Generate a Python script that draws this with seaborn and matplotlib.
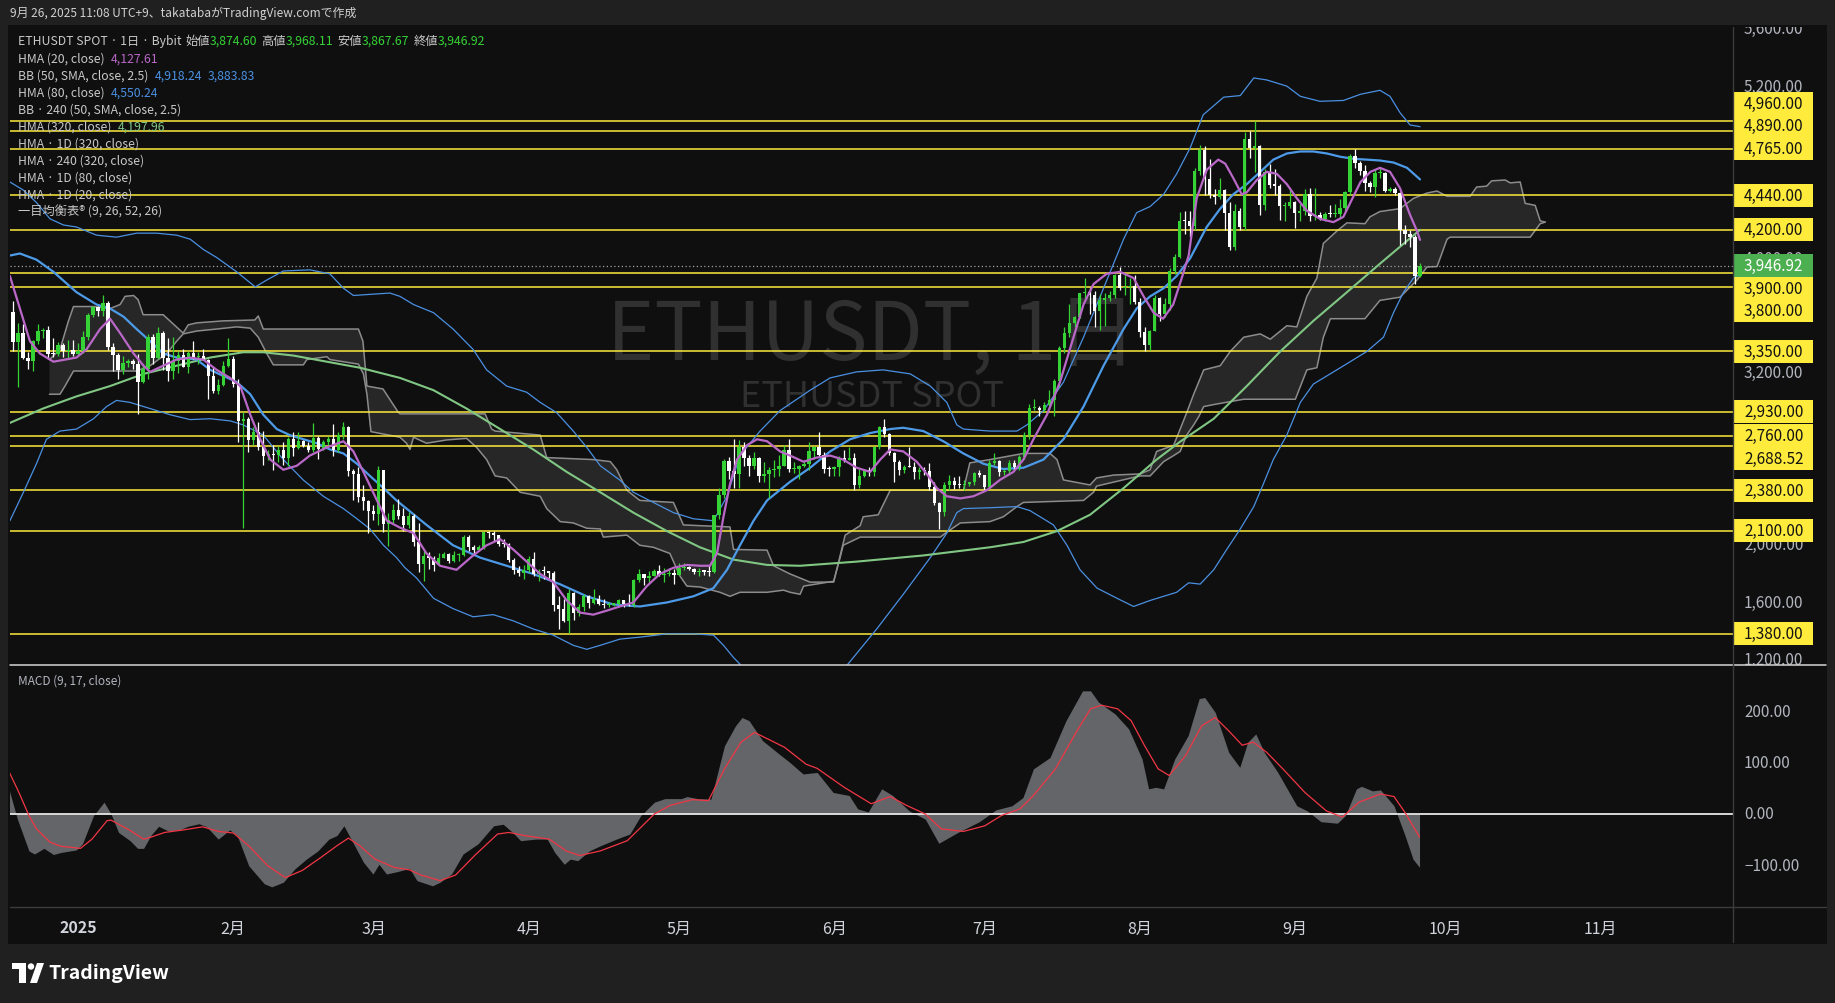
import numpy as np
import pandas as pd
import matplotlib
matplotlib.use('Agg')
import matplotlib.pyplot as plt
from matplotlib.patches import Rectangle, Circle, Polygon
import seaborn as sns

# ---------------- data ----------------
first_day = '2024-12-19'

opens = [3628, 3418, 3475, 3304, 3281, 3422, 3493, 3497, 3334, 3330, 3398, 3352, 3358,  # Dec
         3332, 3353, 3451, 3605, 3657, 3634, 3685, 3378, 3328, 3218, 3266, 3281, 3265, 3136, 3226, 3450,
         3306, 3475, 3306, 3216, 3282, 3326, 3242, 3339, 3308, 3318, 3292, 3179, 3076, 3113, 3248,  # Jan
         3300, 3119, 2867, 2879, 2731, 2788, 2686, 2621, 2632, 2627, 2660, 2603, 2738, 2678, 2725, 2691,
         2662, 2744, 2672, 2717, 2740, 2663, 2764, 2823, 2513, 2494, 2336, 2307,  # Feb
         2237, 2217, 2519, 2148, 2171, 2241, 2200, 2140, 2202, 2020, 1865, 1923, 1908, 1862, 1910, 1937,
         1887, 1930, 1931, 2056, 1983, 1964, 1983, 2087, 2083, 2068, 2009, 2003, 1897, 1827, 1806,  # Mar
         1822, 1904, 1795, 1817, 1816, 1807, 1579, 1554, 1471, 1667, 1522, 1566, 1643, 1596, 1622, 1587,
         1578, 1583, 1589, 1613, 1587, 1579, 1754, 1795, 1771, 1786, 1819, 1792, 1799, 1799,  # Apr
         1793, 1838, 1842, 1834, 1808, 1817, 1814, 1811, 2207, 2345, 2582, 2513, 2495, 2681, 2608, 2548,
         2604, 2479, 2493, 2523, 2527, 2551, 2663, 2528, 2531, 2548, 2564, 2658, 2683, 2630, 2531,  # May
         2527, 2540, 2606, 2594, 2607, 2419, 2480, 2525, 2509, 2686, 2819, 2772, 2644, 2580, 2524, 2546,
         2545, 2510, 2525, 2516, 2405, 2295, 2230, 2420, 2446, 2421, 2418, 2424, 2436, 2503,  # Jun
         2486, 2405, 2570, 2588, 2507, 2515, 2572, 2541, 2616, 2770, 2955, 2958, 2943, 2973, 3012, 3140,
         3371, 3476, 3547, 3592, 3757, 3763, 3741, 3630, 3706, 3724, 3741, 3880, 3793, 3797, 3809,  # Jul
         3697, 3485, 3394, 3495, 3723, 3610, 3684, 3913, 4012, 4263, 4260, 4222, 4606, 4753, 4550, 4440,
         4425, 4477, 4316, 4079, 4333, 4215, 4834, 4770, 4785, 4373, 4601, 4509, 4507, 4362, 4367,  # Aug
         4392, 4313, 4328, 4449, 4297, 4305, 4275, 4308, 4307, 4309, 4349, 4462, 4711, 4664, 4607, 4522,
         4500, 4592, 4596, 4470, 4480, 4453, 4200, 4166, 4151, 3874.60]  # Sep

highs = [3705, 3550, 3543, 3345, 3430, 3540, 3512, 3525, 3440, 3418, 3410, 3430, 3430,
         3408, 3490, 3620, 3670, 3670, 3745, 3700, 3410, 3340, 3320, 3300, 3300, 3330, 3260, 3470, 3470,
         3520, 3495, 3440, 3450, 3355, 3370, 3350, 3425, 3345, 3370, 3300, 3240, 3160, 3280, 3440,
         3320, 3160, 2925, 2890, 2825, 2855, 2795, 2660, 2700, 2690, 2720, 2750, 2790, 2790, 2735, 2720,
         2850, 2760, 2730, 2760, 2845, 2785, 2860, 2830, 2530, 2540, 2420, 2310,
         2275, 2550, 2525, 2220, 2285, 2320, 2260, 2230, 2215, 2150, 1960, 1950, 1920, 1940, 1950, 1940,
         1960, 1940, 2070, 2070, 2000, 2000, 2090, 2100, 2100, 2070, 2040, 2010, 1905, 1850, 1860,
         1920, 1950, 1830, 1850, 1820, 1815, 1640, 1620, 1690, 1670, 1590, 1660, 1650, 1690, 1650, 1620,
         1600, 1595, 1620, 1615, 1660, 1760, 1830, 1800, 1820, 1830, 1860, 1840, 1840, 1830,
         1870, 1870, 1850, 1840, 1835, 1825, 1860, 2210, 2400, 2600, 2610, 2740, 2730, 2720, 2630, 2650,
         2610, 2580, 2540, 2590, 2630, 2700, 2740, 2580, 2560, 2590, 2720, 2690, 2790, 2650, 2550,
         2550, 2620, 2660, 2680, 2640, 2530, 2530, 2540, 2690, 2830, 2880, 2780, 2650, 2590, 2560, 2680,
         2580, 2540, 2540, 2570, 2440, 2300, 2440, 2490, 2470, 2480, 2450, 2440, 2510, 2520,
         2490, 2590, 2640, 2590, 2530, 2590, 2590, 2630, 2790, 2980, 3020, 2970, 3000, 3080, 3160, 3390,
         3520, 3680, 3600, 3760, 3860, 3800, 3770, 3750, 3760, 3770, 3890, 3940, 3890, 3860, 3880,
         3720, 3520, 3500, 3740, 3730, 3720, 3930, 4030, 4320, 4330, 4330, 4630, 4790, 4780, 4690, 4480,
         4560, 4480, 4390, 4380, 4350, 4880, 4890, 4956, 4790, 4620, 4660, 4620, 4520, 4390, 4490,
         4400, 4380, 4480, 4490, 4490, 4320, 4320, 4370, 4380, 4410, 4470, 4730, 4760, 4680, 4650, 4540,
         4620, 4640, 4600, 4500, 4500, 4460, 4230, 4200, 4160, 3968.11]

lows = [3350, 3100, 3300, 3230, 3210, 3400, 3440, 3300, 3310, 3320, 3310, 3300, 3320,
        3320, 3340, 3430, 3590, 3600, 3600, 3360, 3210, 3155, 3190, 3240, 3230, 2910, 3130, 3160, 3260,
        3300, 3220, 3140, 3160, 3200, 3240, 3200, 3300, 3260, 3290, 3020, 3060, 3050, 3110, 3240,
        3100, 2720, 2120, 2650, 2700, 2660, 2560, 2590, 2520, 2580, 2560, 2550, 2620, 2670, 2680, 2650,
        2650, 2600, 2660, 2700, 2620, 2650, 2740, 2480, 2310, 2300, 2240, 2080,
        2170, 2140, 2090, 1990, 2150, 2180, 2100, 2120, 1990, 1810, 1750, 1830, 1820, 1860, 1905, 1870,
        1880, 1890, 1925, 1960, 1930, 1960, 1970, 2050, 2030, 1990, 1985, 1880, 1800, 1780, 1760,
        1810, 1780, 1750, 1760, 1770, 1540, 1410, 1460, 1385, 1475, 1505, 1540, 1560, 1590, 1580, 1560,
        1565, 1575, 1580, 1565, 1570, 1565, 1740, 1720, 1740, 1780, 1780, 1740, 1780, 1730,
        1790, 1825, 1825, 1800, 1780, 1790, 1780, 1805, 2180, 2330, 2460, 2400, 2400, 2550, 2480, 2530,
        2440, 2440, 2330, 2470, 2480, 2550, 2510, 2500, 2460, 2540, 2520, 2600, 2620, 2500, 2480,
        2480, 2480, 2580, 2590, 2380, 2400, 2470, 2480, 2480, 2670, 2750, 2630, 2440, 2490, 2500, 2540,
        2460, 2460, 2490, 2380, 2280, 2110, 2200, 2380, 2390, 2400, 2380, 2410, 2420, 2470,
        2380, 2390, 2560, 2480, 2490, 2500, 2520, 2520, 2600, 2740, 2940, 2900, 2930, 2960, 2900, 3100,
        3340, 3450, 3520, 3580, 3720, 3610, 3520, 3500, 3530, 3700, 3720, 3780, 3740, 3680, 3680,
        3450, 3355, 3360, 3490, 3560, 3590, 3640, 3890, 4000, 4170, 4150, 4200, 4580, 4440, 4420, 4380,
        4410, 4200, 4060, 4060, 4200, 4200, 4700, 4600, 4300, 4340, 4490, 4440, 4270, 4260, 4350,
        4210, 4260, 4300, 4260, 4270, 4270, 4260, 4290, 4290, 4280, 4330, 4440, 4630, 4580, 4470, 4460,
        4430, 4560, 4460, 4460, 4440, 4090, 4100, 4080, 3820, 3867.67]

closes = [3418, 3475, 3304, 3281, 3422, 3493, 3497, 3334, 3330, 3398, 3352, 3358, 3332,
          3353, 3451, 3605, 3657, 3634, 3685, 3378, 3328, 3218, 3266, 3281, 3265, 3136, 3226, 3450, 3306,
          3475, 3306, 3216, 3282, 3326, 3242, 3339, 3308, 3318, 3292, 3179, 3076, 3113, 3248, 3300,
          3119, 2867, 2879, 2731, 2788, 2686, 2621, 2632, 2627, 2660, 2603, 2738, 2678, 2725, 2691, 2662,
          2744, 2672, 2717, 2740, 2663, 2764, 2823, 2513, 2494, 2336, 2307, 2237,
          2217, 2519, 2148, 2171, 2241, 2200, 2140, 2202, 2020, 1865, 1923, 1908, 1862, 1910, 1937, 1887,
          1930, 1931, 2056, 1983, 1964, 1983, 2087, 2083, 2068, 2009, 2003, 1897, 1827, 1806, 1822,
          1904, 1795, 1817, 1816, 1807, 1579, 1554, 1471, 1667, 1522, 1566, 1643, 1596, 1622, 1587, 1578,
          1583, 1589, 1613, 1587, 1579, 1754, 1795, 1771, 1786, 1819, 1792, 1799, 1799, 1793,
          1838, 1842, 1834, 1808, 1817, 1814, 1811, 2207, 2345, 2582, 2513, 2495, 2681, 2608, 2548, 2604,
          2479, 2493, 2523, 2527, 2551, 2663, 2528, 2531, 2548, 2564, 2658, 2683, 2630, 2531, 2527,
          2540, 2606, 2594, 2607, 2419, 2480, 2525, 2509, 2686, 2819, 2772, 2644, 2580, 2524, 2546, 2545,
          2510, 2525, 2516, 2405, 2295, 2230, 2420, 2446, 2421, 2418, 2424, 2436, 2503, 2486,
          2405, 2570, 2588, 2507, 2515, 2572, 2541, 2616, 2770, 2955, 2958, 2943, 2973, 3012, 3140, 3371,
          3476, 3547, 3592, 3757, 3763, 3741, 3630, 3706, 3724, 3741, 3880, 3793, 3797, 3809, 3697,
          3485, 3394, 3495, 3723, 3610, 3684, 3913, 4012, 4263, 4260, 4222, 4606, 4753, 4550, 4440, 4425,
          4477, 4316, 4079, 4333, 4215, 4834, 4770, 4785, 4373, 4601, 4509, 4507, 4362, 4367, 4392,
          4313, 4328, 4449, 4297, 4305, 4275, 4308, 4307, 4309, 4349, 4462, 4711, 4664, 4607, 4522, 4500,
          4592, 4596, 4470, 4480, 4453, 4200, 4166, 4151, 3875, 3946.92]

# horizontal levels (yellow) and last price
levels = [4960, 4890, 4765, 4440, 4200, 3900, 3800, 3350, 2930, 2760, 2688.52, 2380, 2100, 1380]
last_price = 3946.92

# indicator lines, (days from 2025-01-01, value)
hma20 = [(-13.6, 3876), (-9.6, 3421), (-7.6, 3335), (-4.9, 3278), (-0.3, 3307), (1.7, 3364), (4.4, 3506),
         (6.4, 3578), (8.4, 3478), (11.1, 3335), (13.1, 3250), (14.4, 3207), (17.0, 3250), (19.7, 3293),
         (22.4, 3307), (25.0, 3293), (27.7, 3221), (30.4, 3164), (32.4, 3108), (34.4, 2908), (36.4, 2737),
         (38.4, 2595), (41.0, 2524), (43.7, 2552), (46.3, 2623), (49.7, 2680), (53.0, 2723), (55.0, 2652),
         (57.0, 2509), (59.7, 2310), (61.7, 2168), (64.3, 2120), (67.0, 2082), (69.6, 1940), (72.3, 1854),
         (75.6, 1826), (78.9, 1926), (81.6, 1997), (84.3, 2040), (86.9, 1968), (89.6, 1883), (92.3, 1797),
         (94.9, 1741), (97.6, 1612), (100.3, 1527), (102.9, 1513), (105.6, 1541), (108.2, 1570),
         (110.9, 1598), (113.6, 1712), (116.2, 1797), (118.9, 1840), (121.6, 1860), (124.2, 1854),
         (126.2, 1854), (127.6, 1940), (128.9, 2196), (130.2, 2424), (131.6, 2595), (133.6, 2695),
         (135.6, 2737), (137.6, 2723), (140.2, 2652), (142.2, 2623), (144.9, 2580), (147.5, 2609),
         (150.2, 2623), (152.8, 2595), (155.5, 2538), (158.2, 2509), (160.2, 2595), (162.2, 2666),
         (164.8, 2652), (167.5, 2580), (169.5, 2495), (171.5, 2396), (173.5, 2339), (176.2, 2324),
         (178.8, 2339), (181.5, 2381), (184.1, 2453), (186.8, 2509), (188.8, 2595), (190.8, 2737),
         (193.5, 2908), (196.1, 3136), (198.8, 3449), (200.8, 3677), (202.8, 3820), (205.4, 3891),
         (208.1, 3905), (210.8, 3862), (212.8, 3734), (214.8, 3620), (216.7, 3578), (218.7, 3677),
         (220.4, 3860), (221.8, 4019), (223.4, 4418), (225.4, 4617), (227.7, 4688), (229.1, 4660),
         (230.7, 4560), (232.4, 4446), (233.4, 4460), (235.4, 4546), (237.4, 4603), (239.4, 4589),
         (241.4, 4517), (243.4, 4418), (245.4, 4332), (248.0, 4275), (250.7, 4252), (252.7, 4289),
         (254.1, 4389), (256.1, 4531), (258.1, 4603), (260.0, 4631), (262.0, 4603), (264.0, 4489),
         (266.0, 4303), (267.4, 4190), (268.0, 4128)]

hma80 = [(-13.6, 4019), (-11.6, 4033), (-8.3, 3990), (-4.9, 3905), (-0.3, 3763), (3.7, 3677), (6.4, 3649),
         (9.1, 3592), (11.7, 3506), (14.4, 3421), (17.0, 3335), (19.7, 3307), (23.7, 3293), (26.4, 3221),
         (29.0, 3179), (31.7, 3136), (34.4, 3051), (37.0, 2908), (39.7, 2808), (42.3, 2766), (45.0, 2737),
         (47.7, 2709), (50.3, 2666), (53.0, 2638), (55.7, 2566), (58.3, 2481), (61.0, 2396), (63.6, 2310),
         (69.6, 2139), (74.9, 1997), (80.3, 1911), (85.6, 1854), (90.9, 1797), (96.2, 1726), (101.6, 1641),
         (106.9, 1584), (112.2, 1570), (117.6, 1598), (122.9, 1641), (126.9, 1698), (129.6, 1826),
         (132.2, 1997), (134.9, 2168), (137.6, 2310), (142.2, 2440), (146.2, 2538), (150.2, 2652),
         (154.2, 2737), (158.2, 2780), (162.2, 2808), (164.8, 2817), (168.8, 2794), (172.8, 2723),
         (176.8, 2638), (180.8, 2566), (184.8, 2529), (188.8, 2538), (192.8, 2595), (196.8, 2737),
         (200.8, 2965), (204.8, 3250), (208.8, 3506), (211.4, 3649), (214.1, 3734), (216.8, 3791),
         (219.4, 3876), (222.1, 4000), (225.4, 4218), (228.1, 4346), (230.7, 4446), (233.4, 4517),
         (236.1, 4603), (238.7, 4688), (241.4, 4731), (244.1, 4745), (246.7, 4745), (249.4, 4731),
         (252.1, 4708), (254.7, 4694), (257.4, 4688), (260.0, 4682), (262.7, 4668), (265.4, 4631),
         (268.0, 4550)]

hma320 = [(-13.6, 2851), (-7.0, 2951), (-0.3, 3036), (6.4, 3108), (13.1, 3193), (19.7, 3250), (26.4, 3307),
          (33.0, 3344), (37.0, 3344), (43.0, 3321), (49.7, 3278), (56.3, 3236), (64.3, 3165), (71.0, 3079),
          (77.6, 2951), (84.3, 2808), (90.9, 2666), (97.6, 2509), (104.3, 2367), (110.9, 2225),
          (117.6, 2096), (124.2, 1983), (130.9, 1897), (137.6, 1860), (144.2, 1854), (155.5, 1883),
          (168.8, 1926), (182.1, 1983), (188.8, 2020), (195.5, 2096), (202.1, 2210), (208.8, 2396),
          (215.4, 2595), (220.1, 2720), (226.8, 2880), (233.4, 3108), (240.1, 3350), (246.7, 3563),
          (253.4, 3763), (260.0, 3962), (268.0, 4198)]

bb_upper = [(-13.6, 4532), (-10.9, 4475), (-8.3, 4389), (-5.6, 4275), (-2.9, 4232), (-0.3, 4218), (3.7, 4161),
            (7.7, 4147), (11.7, 4175), (15.7, 4175), (19.7, 4161), (22.4, 4133), (25.0, 4062), (27.7, 4005),
            (31.7, 3905), (35.4, 3800), (37.7, 3848), (41.0, 3911), (46.3, 3919), (50.3, 3891), (53.0, 3791),
            (55.0, 3740), (58.3, 3748), (62.3, 3757), (64.3, 3734), (67.0, 3677), (71.0, 3620), (74.9, 3506),
            (78.9, 3364), (81.6, 3221), (85.6, 3108), (89.6, 3065), (92.3, 2994), (95.6, 2922), (98.9, 2794),
            (101.6, 2680), (104.3, 2552), (108.2, 2452), (110.9, 2367), (114.9, 2296), (118.9, 2225),
            (122.9, 2182), (126.9, 2168), (129.6, 2339), (132.2, 2623), (136.2, 2794), (140.2, 2937),
            (146.2, 3079), (150.2, 3165), (155.5, 3207), (160.8, 3221), (166.2, 3193), (170.2, 3108),
            (173.5, 2994), (175.5, 2837), (176.8, 2808), (182.1, 2794), (187.5, 2794), (189.5, 2837),
            (192.8, 2937), (196.8, 3136), (200.8, 3449), (204.8, 3791), (208.8, 4133), (211.4, 4318),
            (214.1, 4361), (216.8, 4446), (219.4, 4589), (222.1, 4770), (224.7, 5001), (228.8, 5124),
            (232.1, 5135), (234.8, 5258), (237.4, 5244), (241.4, 5201), (244.1, 5130), (248.0, 5095),
            (252.7, 5101), (256.1, 5144), (260.0, 5172), (262.0, 5130), (264.0, 5016), (266.0, 4930),
            (268.0, 4918)]

bb_lower = [(-13.6, 2168), (-10.9, 2367), (-8.3, 2566), (-6.3, 2737), (-3.6, 2794), (-0.3, 2808), (3.1, 2880),
            (5.7, 2965), (7.7, 3008), (10.4, 2994), (14.4, 2951), (18.4, 2908), (22.4, 2874), (26.4, 2880),
            (30.4, 2865), (33.0, 2837), (37.0, 2766), (41.0, 2595), (45.0, 2452), (49.0, 2339), (53.0, 2253),
            (55.7, 2182), (58.3, 2111), (61.0, 1997), (63.6, 1911), (65.3, 1840), (67.6, 1769), (71.0, 1627),
            (74.9, 1555), (78.9, 1498), (82.9, 1513), (86.9, 1470), (90.9, 1413), (94.9, 1370), (98.9, 1299),
            (101.6, 1271), (104.3, 1299), (108.2, 1342), (112.2, 1356), (117.6, 1379), (122.9, 1379),
            (126.9, 1370), (128.9, 1299), (130.9, 1214), (132.9, 1142), (136.0, 1050), (140.0, 980),
            (144.0, 950), (148.0, 1000), (151.0, 1080), (153.5, 1157), (159.5, 1413), (164.8, 1655),
            (170.2, 1911), (173.5, 2082), (175.5, 2225), (176.8, 2253), (182.1, 2259), (187.5, 2267),
            (190.1, 2239), (194.8, 2139), (197.5, 1997), (200.1, 1826), (203.5, 1698), (207.5, 1627),
            (210.8, 1570), (214.1, 1612), (219.4, 1669), (221.8, 1735), (224.1, 1726), (226.8, 1826),
            (229.4, 1968), (232.1, 2111), (234.8, 2267), (236.7, 2424), (238.7, 2595), (241.4, 2766),
            (244.1, 2994), (246.7, 3122), (249.4, 3179), (253.4, 3264), (257.4, 3350), (260.7, 3449),
            (262.7, 3620), (264.7, 3763), (266.7, 3862), (268.0, 3884)]

cloud_top = [(-5.7, 3293), (-3.6, 3364), (-1.9, 3563), (-0.9, 3663), (3.1, 3663), (6.4, 3649), (8.4, 3677),
             (9.4, 3734), (11.1, 3740), (12.0, 3711), (13.0, 3606), (17.0, 3606), (21.0, 3478), (22.0, 3535),
             (23.7, 3549), (29.0, 3563), (35.3, 3569), (36.0, 3597), (37.0, 3506), (56.0, 3506), (56.9, 3421),
             (57.7, 3108), (60.9, 3088), (63.9, 2928), (64.3, 2914), (81.3, 2914), (82.6, 2808), (83.3, 2794),
             (92.3, 2766), (93.6, 2609), (102.9, 2595), (106.3, 2581), (107.6, 2524), (109.6, 2381),
             (112.2, 2310), (118.9, 2296), (120.9, 2139), (130.2, 2125), (130.9, 1968), (137.6, 1963),
             (138.9, 1854), (142.2, 1797), (146.2, 1740), (150.9, 1740), (151.9, 1883), (153.2, 2068),
             (156.2, 2134), (156.8, 2196), (159.8, 2210), (162.2, 2381), (176.8, 2381), (178.1, 2572),
             (182.1, 2595), (188.8, 2638), (194.1, 2638), (195.5, 2595), (196.8, 2453), (202.1, 2418),
             (203.4, 2467), (206.8, 2487), (212.1, 2495), (214.1, 2524), (215.4, 2652), (218.8, 2695),
             (220.1, 2808), (221.4, 2922), (222.8, 3051), (224.8, 3221), (228.1, 3250), (230.1, 3350),
             (232.8, 3449), (236.1, 3472), (238.1, 3435), (240.1, 3492), (241.4, 3529), (243.4, 3521),
             (245.4, 3734), (247.4, 3862), (248.7, 4104), (251.4, 4190), (253.4, 4247), (257.0, 4241),
             (258.0, 4289), (260.0, 4326), (264.0, 4346), (266.7, 4418), (269.4, 4455), (271.4, 4469),
             (273.4, 4432), (278.0, 4432), (279.3, 4497), (281.3, 4503), (282.3, 4540), (285.0, 4546),
             (286.0, 4526), (288.0, 4532), (289.0, 4383), (291.0, 4369), (292.0, 4261), (293.0, 4252)]

cloud_bottom = [(-5.7, 3051), (-3.6, 3051), (-2.6, 3108), (-0.9, 3213), (11.7, 3213), (14.4, 3250), (17.7, 3335),
                (19.7, 3421), (21.0, 3472), (23.7, 3492), (27.7, 3506), (31.7, 3521), (34.4, 3512), (36.0, 3449),
                (37.7, 3335), (39.0, 3256), (45.0, 3256), (45.7, 3293), (49.7, 3313), (50.3, 3293), (56.0, 3261),
                (57.0, 3193), (57.7, 3051), (58.5, 2790), (64.3, 2751), (65.6, 2709), (66.3, 2666), (67.0, 2751),
                (69.6, 2709), (73.6, 2732), (77.6, 2743), (79.6, 2680), (81.6, 2595), (83.3, 2481), (85.6, 2467),
                (88.3, 2367), (92.3, 2339), (93.6, 2253), (96.3, 2162), (98.9, 2153), (101.6, 2116),
                (104.3, 2111), (104.9, 2054), (109.6, 2068), (112.2, 1997), (114.9, 1983), (118.2, 1940),
                (120.2, 1783), (121.6, 1712), (124.2, 1706), (128.2, 1669), (130.2, 1641), (132.2, 1669),
                (137.6, 1669), (140.9, 1684), (142.2, 1669), (144.2, 1655), (144.9, 1712), (150.9, 1746),
                (152.2, 1911), (152.8, 1997), (156.2, 2054), (172.2, 2054), (173.5, 2088), (176.2, 2153),
                (182.1, 2162), (184.8, 2196), (187.5, 2267), (188.8, 2296), (200.8, 2310), (202.8, 2367),
                (203.4, 2410), (212.1, 2481), (214.1, 2481), (216.8, 2581), (218.8, 2623), (220.1, 2652),
                (221.4, 2766), (222.8, 2837), (223.8, 2894), (224.8, 2965), (226.8, 2979), (232.8, 3016),
                (243.1, 3016), (245.4, 3221), (247.4, 3236), (248.7, 3449), (250.1, 3578), (257.0, 3578),
                (260.0, 3706), (264.0, 3728), (267.4, 3848), (269.4, 3939), (271.4, 3942), (273.4, 4133),
                (274.0, 4147), (290.0, 4147), (292.0, 4241), (293.0, 4252)]

macd = [(-13.7, 45), (-12.1, -10), (-9.8, -72), (-8.7, -78), (-6.8, -67), (-4.9, -79), (-3.4, -75), (-0.3, -70),
        (0.9, -58), (3.1, -3), (5.2, 23), (6.6, 0), (8.1, -36), (10.4, -52), (11.9, -67), (13.1, -67),
        (14.6, -41), (16.1, -24), (18.0, -33), (20.3, -31), (21.9, -24), (24.2, -19), (25.7, -25), (28.0, -49),
        (30.3, -31), (31.8, -42), (34.1, -101), (37.2, -136), (38.7, -142), (41.0, -133), (43.3, -107),
        (45.6, -88), (47.9, -72), (50.1, -49), (51.7, -42), (53.1, -23), (54.7, -52), (57.0, -94), (58.9, -117),
        (60.1, -98), (61.6, -117), (63.9, -112), (66.2, -106), (67.7, -130), (70.8, -140), (72.3, -133),
        (74.6, -117), (76.9, -78), (79.9, -58), (83.0, -23), (84.9, -20), (86.8, -36), (88.4, -52),
        (91.4, -49), (93.7, -49), (95.2, -75), (97.1, -98), (98.3, -88), (99.8, -91), (102.1, -72),
        (104.3, -62), (107.5, -49), (110.2, -39), (112.4, -3), (115.1, 23), (117.2, 30), (120.5, 30),
        (121.6, 34), (123.7, 30), (126.4, 29), (129.1, 133), (131.3, 172), (132.6, 188), (134.0, 182),
        (136.7, 143), (140.0, 117), (142.1, 101), (144.8, 78), (147.6, 81), (150.8, 42), (154.0, 36),
        (155.7, 10), (157.8, 4), (160.5, 49), (162.7, 36), (166.0, 6), (169.2, -10), (171.9, -57),
        (175.7, -36), (180.0, -15), (183.3, 8), (186.5, 16), (188.7, 32), (190.8, 88), (194.1, 110),
        (197.3, 182), (200.6, 240), (202.2, 240), (203.8, 218), (207.1, 195), (209.8, 166), (212.5, 107),
        (213.8, 49), (215.2, 52), (216.8, 49), (219.0, 107), (221.7, 153), (223.9, 225), (225.0, 227),
        (227.1, 198), (229.8, 120), (232.0, 91), (233.6, 140), (235.2, 156), (236.9, 120), (239.6, 81),
        (243.4, 16), (245.5, 6), (248.2, -15), (251.5, -18), (253.1, -3), (255.3, 49), (256.3, 54),
        (258.5, 45), (260.1, 47), (262.8, 16), (265.0, -42), (266.6, -88), (267.9, -104)]

signal = [(-13.7, 81), (-11.8, 42), (-9.8, -3), (-8.3, -29), (-5.6, -55), (-3.4, -63), (0.5, -67), (2.8, -49),
          (5.8, -13), (6.6, -12), (10.4, -32), (13.1, -49), (14.6, -45), (17.3, -36), (21.1, -31), (24.9, -25),
          (28.0, -34), (31.0, -37), (34.1, -62), (37.9, -101), (41.4, -124), (44.8, -110), (48.6, -84),
          (51.7, -62), (54.0, -47), (56.3, -62), (59.3, -88), (63.1, -104), (66.2, -109), (68.5, -119),
          (72.3, -130), (75.4, -119), (79.2, -81), (83.8, -39), (86.1, -36), (89.1, -42), (94.1, -49),
          (97.5, -72), (100.2, -81), (104.3, -72), (109.7, -52), (112.4, -26), (115.1, 0), (118.3, 17),
          (122.7, 28), (125.9, 26), (129.1, 88), (132.4, 140), (135.1, 159), (137.8, 146), (141.1, 130),
          (145.4, 97), (147.6, 89), (153.0, 52), (158.4, 20), (162.2, 34), (165.4, 17), (169.2, 0),
          (172.4, -29), (176.8, -34), (181.1, -23), (184.4, -3), (188.1, 10), (190.8, 36), (195.2, 88),
          (199.5, 162), (202.2, 205), (204.4, 212), (207.6, 205), (210.3, 182), (213.0, 133), (215.7, 88),
          (217.9, 75), (221.2, 114), (224.4, 172), (227.1, 188), (229.8, 162), (232.5, 134), (234.7, 140),
          (237.4, 120), (240.6, 88), (245.0, 42), (249.3, 6), (252.5, -6), (255.8, 23), (260.1, 39),
          (262.8, 34), (265.0, 3), (267.9, -45)]

# ---------------- style ----------------
BG = '#0f0f0f'
OUTER = '#202020'
GREEN = '#35d335'
WHITE = '#ffffff'
YELLOW = '#ffeb3b'
PURPLE = '#ba68c8'
BLUE = '#4a90e2'
LGREEN = '#81c784'
GRAYTXT = '#b2b5be'

sns.set_theme(style='dark', rc={'axes.facecolor': BG, 'figure.facecolor': OUTER})
plt.rcParams['font.family'] = ['Noto Sans CJK JP', 'DejaVu Sans']

W, H = 1835, 1004
fig = plt.figure(figsize=(W / 100, H / 100), dpi=100, facecolor=OUTER)


def box(x0, y0, x1, y1):
    return [x0 / W, 1 - y1 / H, (x1 - x0) / W, (y1 - y0) / H]


def clean(a):
    a.set_xticks([])
    a.set_yticks([])
    for s in a.spines.values():
        s.set_visible(False)


bg_ax = fig.add_axes(box(8, 26, 1827, 945))
bg_ax.set_facecolor(BG)
clean(bg_ax)

ax = fig.add_axes(box(10, 28, 1733, 666))
axm = fig.add_axes(box(10, 666, 1733, 908))
axs = fig.add_axes(box(1733, 28, 1826, 666), sharey=ax)
axms = fig.add_axes(box(1733, 666, 1826, 908), sharey=axm)
for a in (ax, axm, axs, axms):
    a.set_facecolor(BG)
    clean(a)

base = pd.Timestamp('2025-01-01')
xlim = (-13.58, 330.5)
ax.set_xlim(*xlim)
axm.set_xlim(*xlim)
ax.set_ylim(1161.6, 5613.6)
axm.set_ylim(-181.3, 290.4)
axs.set_xlim(0, 1)
axms.set_xlim(0, 1)

# watermark
ax.text(0.5, 0.4796, 'ETHUSDT, 1日', transform=ax.transAxes, ha='center', va='baseline',
        fontsize=58, color='#303030', zorder=0)
ax.text(0.5, 0.4060, 'ETHUSDT SPOT', transform=ax.transAxes, ha='center', va='baseline',
        fontsize=26, color='#303030', zorder=0)

# ichimoku cloud
tx, ty = zip(*cloud_top)
bx, by = zip(*cloud_bottom)
ax.fill(list(tx) + list(bx)[::-1], list(ty) + list(by)[::-1], color='#272727', lw=0, zorder=1)
sns.lineplot(x=tx, y=ty, ax=ax, color='#8c8c8c', linewidth=1.1, sort=False, estimator=None, zorder=1.5)
sns.lineplot(x=bx, y=by, ax=ax, color='#8c8c8c', linewidth=1.1, sort=False, estimator=None, zorder=1.5)

# levels
for lv in levels:
    ax.axhline(lv, color=YELLOW, lw=1.1, zorder=2)
ax.axhline(last_price, color='#a0a0a0', lw=0.9, ls=(0, (1, 2)), zorder=2)

# indicator lines
for series, col, lw, z in [(bb_upper, BLUE, 0.9, 3), (bb_lower, BLUE, 0.9, 3), (hma320, LGREEN, 1.5, 3),
                           (hma80, '#4d9be8', 1.6, 3.2)]:
    d, v = zip(*series)
    sns.lineplot(x=d, y=v, ax=ax, color=col, linewidth=lw, sort=False, estimator=None, zorder=z)

# candles
dates = pd.date_range(first_day, periods=len(closes))
cx = (dates - base).days.values
o = np.array(opens, dtype=float)
c = np.array(closes, dtype=float)
hi = np.array(highs, dtype=float)
lo = np.array(lows, dtype=float)
cols = np.where(c >= o, GREEN, WHITE)
ax.vlines(cx, lo, hi, colors=cols, lw=0.9, zorder=4)
ax.bar(cx, np.maximum(np.abs(c - o), 8), bottom=np.minimum(o, c), width=0.66, color=cols, lw=0, zorder=5)

d, v = zip(*hma20)
sns.lineplot(x=d, y=v, ax=ax, color=PURPLE, linewidth=1.6, sort=False, estimator=None, zorder=6)

# MACD pane
md, mv = zip(*macd)
axm.fill_between(md, 0, mv, color='#636569', lw=0, zorder=1)
sd, sv = zip(*signal)
sns.lineplot(x=sd, y=sv, ax=axm, color='#f23645', linewidth=0.9, sort=False, estimator=None, zorder=3)
axm.axhline(0, color='#e6e6e6', lw=1.3, zorder=2)

# time axis labels
months = pd.date_range('2025-01-01', '2025-11-01', freq='MS')
axm.set_xticks((months - base).days.values)
axm.set_xticklabels(['2025'] + [f'{m}月' for m in months.month[1:]])
axm.tick_params(axis='x', length=0, pad=9, colors='#d1d4dc', labelsize=11.5)
axm.get_xticklabels()[0].set_fontweight('bold')

# right price scale
for p in [5600, 5200, 4000, 3200, 2000, 1600, 1200]:
    axs.text(0.118, p, f'{p:,.2f}', va='center', ha='left', color=GRAYTXT, fontsize=11, clip_on=True, zorder=1)

upp = (5613.6 - 1161.6) / 638.0  # price units per pixel
nudge = {4960: -17.5, 4890: -5, 3900: 16, 3800: 24, 2688.52: 12.5}
box_h = 23 * upp
for lv in levels:
    yc = lv - nudge.get(lv, 0) * upp
    axs.add_patch(Rectangle((0.008, yc - box_h / 2), 0.85, box_h, color=YELLOW, lw=0, zorder=2))
    axs.text(0.118, yc, f'{lv:,.2f}', va='center', ha='left', color='#131313', fontsize=11, zorder=3)
axs.add_patch(Rectangle((0.008, last_price - box_h / 2), 0.85, box_h, color='#4caf50', lw=0, zorder=2))
axs.text(0.118, last_price, f'{last_price:,.2f}', va='center', ha='left', color='white', fontsize=11, zorder=3)

for p, lab in [(200, '200.00'), (100, '100.00'), (0, '0.00'), (-100, '−100.00')]:
    axms.text(0.118, p, lab, va='center', ha='left', color=GRAYTXT, fontsize=11)

# overlay in pixel coordinates
ov = fig.add_axes([0, 0, 1, 1])
ov.set_xlim(0, W)
ov.set_ylim(H, 0)
ov.axis('off')
ov.patch.set_alpha(0)

ov.plot([10, 1826], [666, 666], color='#d6d6d6', lw=1.1)
ov.plot([10, 1826], [908, 908], color='#3c3c3c', lw=1)
ov.plot([1733, 1733], [28, 943], color='#3c3c3c', lw=1)

renderer = fig.canvas.get_renderer()


def row(x, y, parts, size):
    for s, col, gap in parts:
        t = ov.text(x, y, s, color=col, fontsize=size, ha='left', va='center')
        x += t.get_window_extent(renderer).width + gap


ov.text(10, 13, '9月 26, 2025 11:08 UTC+9、takatabaがTradingView.comで作成', color='#d0d0d0',
        fontsize=8.6, ha='left', va='center')

LG = '#c8c8c8'
FS = 8.8
row(18, 41.5, [('ETHUSDT SPOT · 1日 · Bybit', LG, 4), ('始値', LG, 0), ('3,874.60', GREEN, 4),
               ('高値', LG, 0), ('3,968.11', GREEN, 4), ('安値', LG, 0), ('3,867.67', GREEN, 4),
               ('終値', LG, 0), ('3,946.92', GREEN, 0)], FS)
row(18, 59, [('HMA (20, close)', LG, 6), ('4,127.61', PURPLE, 0)], FS)
row(18, 76, [('BB (50, SMA, close, 2.5)', LG, 6), ('4,918.24', BLUE, 6), ('3,883.83', BLUE, 0)], FS)
row(18, 93, [('HMA (80, close)', LG, 6), ('4,550.24', BLUE, 0)], FS)
row(18, 110, [('BB · 240 (50, SMA, close, 2.5)', LG, 0)], FS)
row(18, 127, [('HMA (320, close)', LG, 6), ('4,197.96', LGREEN, 0)], FS)
for i, s in enumerate(['HMA · 1D (320, close)', 'HMA · 240 (320, close)', 'HMA · 1D (80, close)',
                       'HMA · 1D (20, close)', '一目均衡表® (9, 26, 52, 26)']):
    row(18, 144 + 17 * i, [(s, LG, 0)], FS)

ov.text(18, 681, 'MACD (9, 17, close)', color=GRAYTXT, fontsize=8.5, ha='left', va='center')

# TradingView footer logo
ov.add_patch(Rectangle((12, 964), 14, 6, color='white', lw=0))
ov.add_patch(Rectangle((19, 964), 7, 20, color='white', lw=0))
ov.add_patch(Circle((31, 967.5), 3.2, color='white', lw=0))
ov.add_patch(Polygon([(30, 984), (37, 984), (44, 964), (37, 964)], closed=True, color='white', lw=0))
ov.text(48, 974, 'TradingView', color='white', fontsize=14, fontweight='bold', ha='left', va='center')

fig.savefig('out.png', dpi=100, facecolor=OUTER)
